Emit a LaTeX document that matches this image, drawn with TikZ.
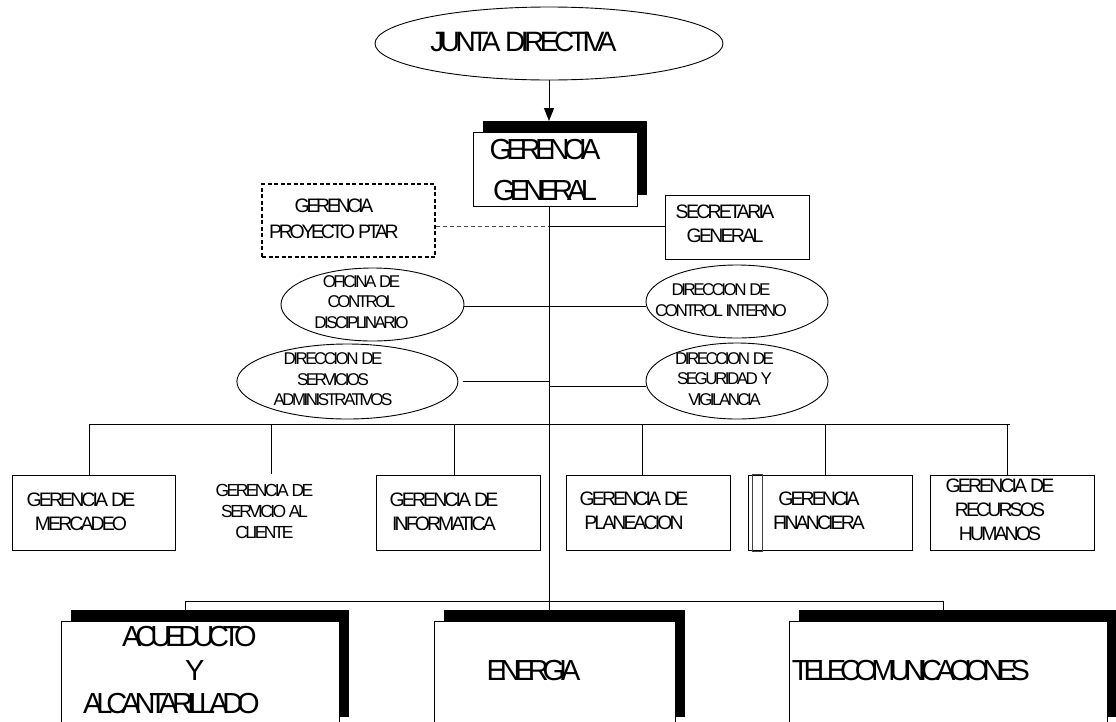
\documentclass[tikz,border=0pt]{standalone}
\usepackage{fontspec}
\setmainfont{Liberation Sans}
\newfontfamily\cf{Liberation Sans}
\usetikzlibrary{shapes.geometric,shadows,arrows.meta}
\newcommand\lsf[3]{\cf\fontsize{#1}{#2}\selectfont\addfontfeature{LetterSpace=#3}\spaceskip=0.16em\relax}
\begin{document}
\begin{tikzpicture}[x=1pt,y=-1pt,
  box/.style={draw, line width=0.9pt, fill=white, rectangle, inner sep=0pt},
  sbox/.style={box, drop shadow={shadow xshift=10pt, shadow yshift=11pt, fill=black, opacity=1}},
  ell/.style={draw, ellipse, fill=white, inner sep=0pt, line width=0.9pt},
  dbox/.style={draw, line width=1.6pt, dash pattern=on 4pt off 2.5pt, rectangle, inner sep=0pt},
  lnk/.style={line width=1pt},
  dlnk/.style={line width=1pt, draw=black!70, dash pattern=on 4pt off 3pt},
  lab/.style={inner sep=0pt, align=center},
  big/.style={lab, font=\lsf{28}{30}{-16}},
  ggf/.style={lab, font=\lsf{29}{40.5}{-20}},
  mid/.style={lab, font=\lsf{19.5}{24}{-15}},
  sml/.style={lab, font=\lsf{17}{20.5}{-15}},
  bot/.style={inner sep=0pt, font=\lsf{29}{33.5}{-21}},
  arr/.style={lnk, -{Triangle[length=13pt,width=10pt]}}
]
\useasboundingbox (0,0) rectangle (1116,721);
\clip (0,0) rectangle (1116,721);

% shapes
\node[ell, minimum width=348pt, minimum height=73pt] (junta) at (549,43.5) {};
\node[sbox, minimum width=164pt, minimum height=74pt] (gg) at (555,169) {};
\node[dbox, minimum width=173pt, minimum height=73pt] (ptar) at (348.5,220.5) {};
\node[box, minimum width=144pt, minimum height=64pt] (sec) at (737,227) {};
\node[ell, minimum width=183pt, minimum height=73pt] (ofi) at (372.5,304.5) {};
\node[ell, minimum width=182pt, minimum height=73pt] (dci) at (737,301.5) {};
\node[ell, minimum width=221pt, minimum height=75pt] (dsa) at (347.4,381.5) {};
\node[ell, minimum width=182pt, minimum height=76pt] (dsv) at (737,381) {};

\node[box, minimum width=163pt, minimum height=75pt] (merc) at (94.3,512.5) {};
\node[box, minimum width=164pt, minimum height=75pt] (info) at (458.7,512.5) {};
\node[box, minimum width=164pt, minimum height=75pt] (plan) at (648,512.5) {};
\node[box, minimum width=164pt, minimum height=75pt] (fin) at (830,512.5) {};
\node[draw, line width=0.9pt, draw=black!75, inner sep=0pt, minimum width=10pt, minimum height=77pt] (finbar) at (757,512.5) {};
\node[box, minimum width=163.6pt, minimum height=75pt] (rrhh) at (1012.5,512.5) {};

\node[sbox, minimum width=278pt, minimum height=107pt] (acu) at (200,674.5) {};
\node[sbox, minimum width=241pt, minimum height=107pt] (ene) at (554.5,674.5) {};
\node[sbox, minimum width=318pt, minimum height=107pt] (tel) at (948,674.5) {};

% labels
\node[big] (juntaT) at (523.5,42) {JUNTA DIRECTIVA};
\node[ggf] (ggT) at (545,170) {GERENCIA\\GENERAL};
\node[lab, font=\lsf{19.5}{25.5}{-17}] (ptarT) at (334,219) {GERENCIA\\PROYECTO PTAR};
\node[lab, font=\lsf{19.5}{24}{-14}] (secT) at (725,224) {SECRETARIA\\GENERAL};
\node[sml] (ofiT) at (361.5,302) {OFICINA DE\\CONTROL\\DISCIPLINARIO};
\node[sml] (dciT) at (721,300) {DIRECCION DE\\CONTROL INTERNO};
\node[sml] (dsaT) at (333,379.3) {DIRECCION DE\\SERVICIOS\\ADMINISTRATIVOS};
\node[sml] (dsvT) at (724.5,379) {DIRECCION DE\\SEGURIDAD Y\\VIGILANCIA};

\node[mid] (mercT) at (81,511.5) {GERENCIA DE\\MERCADEO};
\node[lab, font=\lsf{17.5}{21}{-15}] (servT) at (264.5,511.5) {GERENCIA DE\\SERVICIO AL\\CLIENTE};
\node[mid] (infoT) at (444,511.5) {GERENCIA DE\\INFORMATICA};
\node[mid] (planT) at (634,510.5) {GERENCIA DE\\PLANEACION};
\node[mid] (finT) at (819,510.5) {GERENCIA\\FINANCIERA};
\node[mid] (rrhhT) at (1000,509.5) {GERENCIA DE\\RECURSOS\\HUMANOS};

\node[bot, anchor=west, align=left] (acuT) at (83,670.5) {\hspace*{39pt}ACUEDUCTO\\\hspace*{102pt}Y\\ALCANTARILLADO};
\node[bot] (eneT) at (533.5,671) {ENERGIA};
\node[bot] (telT) at (911,671) {TELECOMUNICACIONES};

% junction coordinates
\coordinate (ggtop) at (549,121);
\coordinate (j1) at (549,226);
\coordinate (j2) at (549,306);
\coordinate (j3l) at (549,381.7);
\coordinate (j3r) at (549,386);
\coordinate (dsaE) at (462.7,381.7);
\coordinate (d1) at (89,424);
\coordinate (d2) at (271.7,424);
\coordinate (d2e) at (271.7,474);
\coordinate (d3) at (454,424);
\coordinate (d4) at (642.7,424);
\coordinate (d5) at (825,424);
\coordinate (d6) at (1007.3,424);
\coordinate (d7) at (1010,424);
\coordinate (e1) at (185,601);
\coordinate (e3) at (943,601);

% connectors
\draw[arr] (junta.south) -- (ggtop);
\draw[lnk] (gg.south -| junta) -- (junta |- ene.north);
\draw[dlnk] (ptar.east |- j1) -- (j1);
\draw[lnk] (j1) -- (sec.west |- j1);
\draw[lnk] (ofi.east |- j2) -- (dci.west |- j2);
\draw[lnk] (dsaE) -- (j3l);
\draw[lnk] (j3r) -- (dsv.west |- j3r);
\draw[lnk] (d1) -- (d7);
\draw[lnk] (d1) -- (d1 |- merc.north);
\draw[lnk] (d2) -- (d2e);
\draw[lnk] (d3) -- (d3 |- info.north);
\draw[lnk] (d4) -- (d4 |- plan.north);
\draw[lnk] (d5) -- (d5 |- fin.north);
\draw[lnk] (d6) -- (d6 |- rrhh.north);
\draw[lnk] (e1) -- (e3);
\draw[lnk] (e1) -- (e1 |- acu.north);
\draw[lnk] (e3) -- (e3 |- tel.north);
\end{tikzpicture}
\end{document}
